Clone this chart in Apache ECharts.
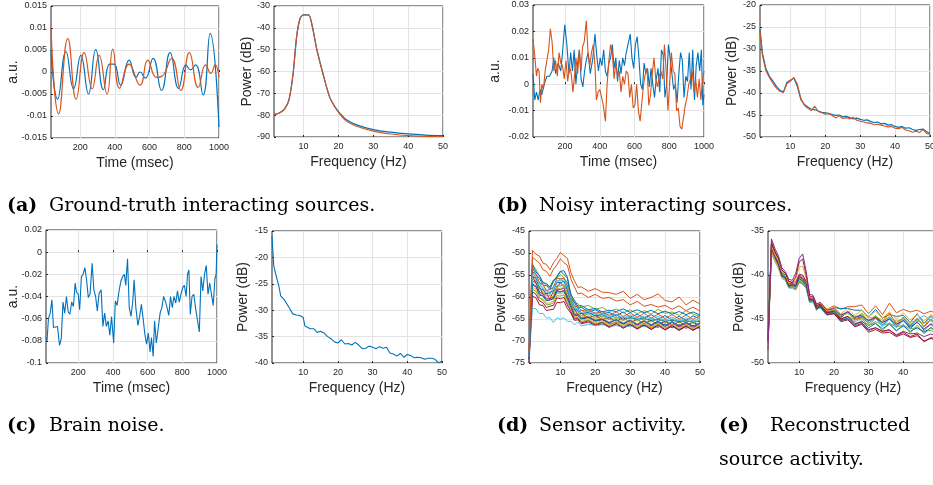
<!DOCTYPE html>
<html><head><meta charset="utf-8">
<script src="https://cdn.jsdelivr.net/npm/echarts@6/dist/echarts.min.js"></script>
<style>html,body{margin:0;padding:0;background:#fff}#c{width:933px;height:485px}</style>
</head><body><div id="c"></div>
<script>
// ---------- DATA ----------
const TIME_TICKS = [200,400,600,800,1000];
const FREQ_TICKS = [10,20,30,40,50];
const A1_YT = [-0.015,-0.01,-0.005,0,0.005,0.01,0.015];
const A2_YT = [-90,-80,-70,-60,-50,-40,-30];
const B1_YT = [-0.02,-0.01,0,0.01,0.02,0.03];
const B2_YT = [-50,-45,-40,-35,-30,-25,-20];
const C1_YT = [-0.1,-0.08,-0.06,-0.04,-0.02,0,0.02];
const C2_YT = [-40,-35,-30,-25,-20,-15];
const D_YT = [-75,-70,-65,-60,-55,-50,-45];
const E_YT = [-50,-45,-40,-35];

// (a) ground-truth sources, time domain
const A1_T_BLUE = [32,70,118,162,204,248,290,334,370,395,433,482,522,545,575,620,669,718,767,810,835,865,908,949,1000];
const A1_V_BLUE = [0.005,-0.0062,0.0046,-0.0038,0.0038,-0.005,0.0051,-0.004,0.0018,0.0018,-0.003,0.0027,-0.0012,0,-0.0014,0.0031,-0.0042,0.0044,-0.0037,0.0016,0.0005,0.0016,-0.0052,0.0088,-0.0125];
const A1_T_ORANGE = [32,76,129,177,223,269,309,355,388,427,482,545,590,639,670,727,780,829,880,923,953,978,1000];
const A1_V_ORANGE = [0.0099,-0.0095,0.0076,-0.0062,0.0044,-0.0038,0.0038,-0.005,0.0052,-0.0037,0.0018,-0.003,0.0027,-0.0012,-0.001,0.0031,-0.0042,0.0044,-0.0035,0.0016,-0.0003,0.0016,-0.0012];
// (a) spectra
const A2_F = [1.5,3,4.5,5.8,7,8,9,10,11.4,12.5,13.8,15.5,17.4,18.9,20.3,22.2,25,30,35,40,45,50];
const A2_BLUE = [-79.8,-79,-77.2,-73,-60.7,-44,-35.6,-34.1,-34.1,-39.4,-50,-60.7,-71.4,-76,-79,-82,-84.3,-86.6,-87.8,-88.6,-89.1,-89.4];
const A2_ORANGE = [-79.8,-79,-77.2,-73,-60.7,-44,-35.6,-34.1,-34.1,-39.4,-50,-60.7,-71.4,-76,-79.3,-82.6,-85,-87.3,-88.6,-89.3,-89.7,-89.9];

// (b) noisy sources, time domain
const B1_T_BLUE = [15,25,35,45,55,65,80,95,110,125,135,145,160,175,185,198,210,222,232,242,252,262,272,282,292,302,312,322,332,345,360,372,382,392,402,412,422,432,442,452,462,472,482,492,502,512,522,532,542,552,562,575,585,595,605,615,625,635,645,655,665,675,685,695,705,715,725,735,745,755,765,775,785,795,805,815,825,835,845,855,865,875,885,895,905,915,925,935,945,955,965,975,985,993,1000];
const B1_V_BLUE = [0.004,-0.006,-0.003,-0.006,-0.002,-0.004,0,0.003,0.003,0.005,0.01,0.004,0.008,0.005,0.012,0.0225,0.015,0.004,0.012,0.005,0.013,0,0.008,0.013,0.002,-0.001,0.005,0.009,0.012,0.004,0.01,0.019,0.011,0.005,0.01,0.007,0.013,0.005,0.003,0.008,0.01,0.015,0.006,0.01,0.001,0.009,0.004,0.01,0.007,0.012,0.015,0.019,0.01,0.006,0.015,0.018,0.01,0,-0.002,0.008,0.004,0.006,-0.001,0.006,0,-0.005,0.002,0.006,-0.003,0.013,0.011,-0.005,0,0.015,0.01,0.004,-0.002,0,-0.007,0.004,0.012,0.009,-0.005,0.003,0.001,0.012,-0.002,0.013,-0.006,0.007,0.012,0.005,0.013,-0.008,-0.004];
const B1_T_ORANGE = [15,25,35,42,50,58,66,75,85,95,105,115,125,135,145,155,165,175,185,195,205,215,225,235,245,255,262,272,282,292,300,310,322,332,342,352,362,372,380,390,400,410,420,432,442,452,462,472,482,492,502,512,522,532,542,552,562,572,582,592,602,612,622,632,642,652,662,672,682,692,702,712,722,732,742,752,762,772,782,792,802,812,822,832,842,852,862,872,882,892,902,912,922,932,942,952,962,972,982,992,1000];
const B1_V_ORANGE = [0.017,0.011,0.003,0.006,0.005,-0.007,0,-0.002,0.005,0.009,0.013,0.021,0.016,0.005,0.009,0.003,0.012,0.008,0.007,0.002,0.009,0.001,0.007,0.004,-0.003,0.004,0.01,0.004,0.013,0.005,0.014,0.016,0.024,0.012,0.007,0.012,0.015,0.007,-0.006,-0.003,-0.002,-0.005,-0.008,-0.014,0,0.009,0.015,0.012,0.002,0.008,0.003,0.005,-0.003,0.003,0,0.005,0.004,-0.005,0,-0.009,-0.008,0,-0.01,-0.014,-0.007,0,0.004,0.006,-0.008,-0.004,0.004,0.01,0.002,-0.001,0.003,0.005,0.002,0.015,0.005,-0.01,0,0.012,0.005,0.004,-0.01,-0.009,-0.016,-0.017,-0.017,-0.008,-0.005,0,0.002,0.005,-0.003,0.002,-0.005,0.002,-0.006,0.002,0.005];
// (b) spectra
const B2_F = [1.3,2,3,4,5,6,7,8,9,10,11,12,13,14,15,16,17,18,19,20,21,22,23,24,25,26,27,28,29,30,31,32,33,34,35,36,37,38,39,40,41,42,43,44,45,46,47,48,49,50];
const B2_BLUE = [-25.5,-31,-34.5,-36.2,-37.3,-38.5,-39.4,-39.8,-37.6,-37.1,-36.6,-38.5,-41.5,-42.6,-43.2,-43.7,-43.8,-44.1,-44.4,-44.5,-44.6,-44.9,-45.1,-45,-45.4,-45.3,-45.6,-45.9,-45.7,-46,-46.2,-46.1,-46.5,-46.7,-46.6,-47,-46.9,-47.3,-47.2,-47.6,-47.8,-47.6,-48,-47.9,-48.3,-48.5,-48.3,-48.2,-48.8,-49.2];
const B2_ORANGE = [-26,-31.5,-35,-36.5,-37.8,-38.9,-39.6,-39.9,-37.9,-37.3,-36.5,-38,-41.2,-42.8,-43.5,-44,-43,-44.2,-44.5,-44.8,-44.7,-45.1,-45.7,-45.2,-45.8,-45.6,-45.9,-45.5,-46.2,-46.4,-46.6,-46.8,-46.9,-47.2,-47.1,-47.3,-47.5,-47.7,-47.6,-48,-48.1,-47.8,-48.4,-48.6,-48.9,-48.7,-49,-48.3,-49.2,-49.4];

// (c) brain noise
const C1_T = [15,20,28,38,48,57,67,80,92,102,112,122,132,142,152,162,172,182,190,200,208,218,228,238,248,258,268,280,290,300,310,320,332,342,352,362,372,382,392,404,414,424,434,446,456,466,474,484,494,504,514,522,532,544,554,564,574,584,594,604,614,622,632,640,650,660,672,682,692,702,712,722,732,742,752,762,772,782,792,802,812,822,830,838,846,856,866,876,886,898,908,918,928,938,948,958,968,978,988,995,1000];
const C1_V = [-0.077,-0.08,-0.06,-0.055,-0.043,-0.068,-0.067,-0.067,-0.084,-0.078,-0.045,-0.055,-0.04,-0.054,-0.056,-0.045,-0.049,-0.028,-0.036,-0.038,-0.052,-0.022,-0.02,-0.014,-0.025,-0.041,-0.038,-0.01,-0.034,-0.04,-0.053,-0.037,-0.034,-0.067,-0.055,-0.067,-0.062,-0.075,-0.058,-0.082,-0.044,-0.048,-0.036,-0.026,-0.022,-0.02,-0.03,-0.006,-0.05,-0.058,-0.045,-0.025,-0.05,-0.066,-0.058,-0.047,-0.06,-0.074,-0.083,-0.073,-0.09,-0.077,-0.094,-0.062,-0.082,-0.07,-0.055,-0.05,-0.04,-0.044,-0.05,-0.057,-0.04,-0.05,-0.04,-0.046,-0.035,-0.045,-0.038,-0.032,-0.03,-0.04,-0.02,-0.016,-0.056,-0.04,-0.038,-0.05,-0.06,-0.072,-0.022,-0.035,-0.02,-0.012,-0.038,-0.028,-0.038,-0.048,-0.024,-0.02,0.007];
const C2_F = [1,1.5,2,3,3.5,4.5,5,6,7,8,9,10,10.5,11,12,13,14,15,16,17,18,19,20,21,22,23,24,25,25.5,26,27,28,29,30,31,32,33,34,35,36,37,38,39,40,41,42,43,44,45,46,47,48,49,50];
const C2_V = [-16,-21.5,-23,-25.5,-27.3,-28,-28.5,-29.6,-30.7,-30.9,-31,-31.4,-33,-33.3,-33.5,-33.5,-34.2,-34,-34.3,-35,-35.4,-36,-36.2,-35.6,-36.4,-36.3,-36.6,-36.1,-35.8,-36.6,-37.3,-37.2,-36.8,-37,-37.3,-36.9,-37.2,-37,-38.1,-38.3,-38.7,-38.2,-38.9,-38.4,-38.6,-39,-38.9,-39,-39.3,-39.1,-39.1,-39.3,-40,-39.6];

// (d) sensor spectra, (e) reconstructed source spectra
const DE_F = [1,2,3,4,5,6,7,8,9,10,11,12,13,14,15,16,18,20,22,24,26,28,30,32,34,36,38,40,42,44,46,48,50];
const D_LINES = [
 [-73,-52.5,-53.8,-55.2,-56.6,-57.2,-57.8,-56.2,-55.8,-54.9,-55.6,-56.8,-59.2,-61.3,-61.5,-62.3,-61.9,-62.8,-62.4,-63.3,-62.7,-63.6,-62.9,-63.8,-63.1,-63.9,-62.8,-63.7,-63.4,-64.2,-63.1,-63.9,-64.4],
 [-73.5,-53.4,-54.9,-55.8,-57.3,-57.4,-58.3,-56.5,-55.3,-54.1,-54.9,-55.7,-60.1,-61.2,-62.6,-62.3,-63.4,-62.9,-63.8,-63.5,-64.3,-63.4,-64.6,-63.9,-64.8,-64,-65,-64.2,-65.2,-64.4,-65.3,-64.3,-65],
 [-74,-54.2,-55.8,-56.7,-58.3,-58.4,-59.4,-57.7,-56.9,-55.7,-56.6,-57.2,-60.9,-61.9,-63.3,-63,-63.9,-63.6,-64.5,-63.8,-64.8,-64.5,-64.9,-64.7,-65.2,-64.9,-65.4,-65.1,-65.5,-65.2,-65.7,-65.3,-65.6],
 [-74.5,-55.2,-56.9,-57.7,-59.4,-59.2,-60.4,-58.7,-57.9,-56.7,-57.7,-58.2,-61.8,-62.7,-64,-63.7,-64.7,-64.2,-65.1,-64.7,-65.5,-64.7,-65.8,-65.1,-66.1,-65.3,-66.3,-65.5,-66.4,-65.6,-66.5,-65.7,-66.6],
 [-73,-56.6,-57,-58.9,-59.2,-60.3,-60.1,-59.8,-57.9,-58.1,-57.7,-59.5,-61.7,-63.6,-63.7,-64.6,-64.3,-65.1,-64.7,-65.7,-64.8,-65.9,-65.1,-66.1,-65.2,-66.3,-65.5,-66.5,-65.7,-66.7,-65.8,-66.8,-66],
 [-74,-57.3,-57.7,-59.6,-59.7,-60.8,-60.7,-60.3,-58.5,-58.8,-58.5,-60.3,-62.2,-64.1,-64.2,-65,-64.7,-65.5,-65.2,-66.1,-65.7,-66,-66.5,-66.3,-66.7,-66.5,-66.9,-66.1,-67,-66.3,-67.1,-66.4,-67.2],
 [-73.5,-55.3,-55.7,-58.1,-58.3,-59.3,-59,-58.5,-56.7,-56.7,-56.5,-58.3,-60.7,-62.9,-63,-63.8,-63.5,-64.3,-64,-64.8,-64,-65.1,-64.7,-65,-64.9,-65.3,-65.1,-65.5,-65.3,-65.6,-65.4,-65.7,-65.5],
 [-74,-58.3,-58.7,-60.3,-60.7,-61.8,-61.7,-61.3,-59.7,-59.8,-59.5,-61.3,-62.7,-64.6,-64.7,-65.6,-65.2,-66.1,-65.7,-66.5,-65.7,-66.7,-65.9,-66.9,-66,-67,-66.2,-67.1,-66.3,-67.3,-66.4,-67.4,-66.5],
 [-73,-54.3,-54.7,-56.8,-57.2,-58.5,-58.3,-57.8,-55.7,-55.9,-55.7,-57.5,-59.9,-62.1,-62.2,-63.1,-62.9,-63.7,-63.3,-64.2,-63.4,-64.4,-63.6,-64.6,-63.7,-64.8,-63.9,-64.9,-64,-65,-64.1,-65.1,-64.2],
 [-75,-59.8,-60.2,-61.8,-61.9,-63.1,-62.9,-62.8,-61.2,-61.3,-61,-62.6,-63.7,-65.3,-65.2,-66.1,-65.7,-66.5,-66.1,-66.9,-66.1,-67.1,-66.3,-67.3,-66.4,-67.4,-66.5,-67.5,-66.6,-67.6,-66.7,-67.5,-66.7],
 [-74.5,-62.5,-62.7,-63.8,-63.7,-64.8,-64.7,-65.8,-64.7,-65.1,-64.7,-65.6,-65.5,-66.3,-65.7,-66.6,-66.2,-66.5,-66.3,-66.7,-66.5,-66.8,-66.6,-66.9,-66.7,-67,-66.6,-66.9,-66.7,-67.1,-66.8,-67.2,-66.4],
 [-73,-52.8,-54.3,-55.2,-56.8,-56.9,-57.8,-56.2,-55.5,-54.2,-54,-55.5,-59.5,-60.7,-62.1,-61.9,-62.9,-62.6,-63.4,-63,-63.3,-62.7,-63.5,-62.9,-63.6,-63,-63.8,-63.2,-63.9,-63.3,-64,-63.4,-64.1],
 [-74,-56.3,-56.7,-58.9,-59.3,-60.5,-60.3,-60.1,-58.2,-58.3,-58,-59.8,-62,-63.9,-63.9,-64.8,-64.5,-65.3,-65,-65.9,-65.1,-66.2,-65.4,-66.4,-65.5,-66.5,-65.7,-66.7,-65.8,-66.8,-65.9,-66.9,-66],
 [-73.5,-57.8,-58.2,-60.1,-60.4,-61.5,-61.3,-60.9,-59.1,-59.3,-59,-60.8,-62.5,-64.3,-64.4,-65.3,-64.9,-65.8,-65.4,-66.3,-65.5,-66.5,-65.7,-66.7,-65.8,-66.8,-66,-67,-66.1,-67.1,-66.2,-67.2,-66.3],
 [-73.8,-55.8,-56.2,-58.2,-58.7,-59.8,-59.6,-59.2,-57.4,-57.5,-57.2,-58.9,-61.2,-63.2,-63.4,-64.3,-63.8,-64.8,-64.3,-65.2,-64.5,-65.4,-64.5,-65.5,-64.8,-65.7,-64.9,-65.8,-65,-65.9,-65.1,-66,-65.2],
 [-74.2,-58.8,-59.4,-60.9,-61.3,-62.4,-62.1,-61.9,-60.2,-60.4,-60.1,-61.8,-63.3,-65,-64.9,-65.9,-65.4,-66.3,-65.8,-66.8,-66,-67,-66.2,-67.2,-66.3,-67.3,-66.4,-67.4,-66.5,-67.5,-66.6,-67.6,-66.7],
 [-73.6,-54.8,-55.3,-57.3,-57.8,-58.9,-58.8,-58.3,-56.3,-56.3,-56.1,-57.9,-60.3,-62.5,-62.7,-63.5,-63.2,-64,-63.7,-64.5,-63.9,-64.8,-64.1,-65,-64.3,-65.1,-64.4,-65.3,-64.6,-65.4,-64.7,-65.5,-64.8],
 [-74,-57,-57.5,-59.3,-59.8,-60.9,-60.6,-60.4,-58.8,-58.9,-58.6,-60.4,-62.3,-64.2,-64.2,-65,-64.6,-65.4,-65.1,-65.8,-65.2,-66,-65.3,-66.2,-65.4,-66.3,-65.5,-66.4,-65.6,-66.5,-65.7,-66.6,-65.8],
 [-72.5,-51,-51.6,-52.3,-53.8,-54.2,-55.3,-53.7,-52.7,-51.3,-52.2,-52.8,-55.9,-57.7,-59.3,-59.1,-60.1,-59.4,-60.3,-60.1,-60.9,-60.6,-61.8,-61,-62.1,-61.7,-62.3,-61.9,-62.8,-62,-63.1,-62.3,-63.2],
 [-72,-49.4,-50.3,-50.7,-52.3,-52.6,-53.8,-52.2,-51.2,-49.9,-50.6,-51.2,-54.4,-56.3,-57.8,-57.7,-58.7,-58.1,-58.9,-59,-59.4,-58.7,-60.3,-59.4,-60.6,-60.1,-59.3,-60.8,-61.1,-60,-61.8,-60.7,-61.6]
];
const E_LINES = [
 [-47,-37,-37.9,-38.8,-40,-40.2,-41.2,-41.2,-41.4,-40.4,-40.7,-41.1,-42.9,-42.8,-43.7,-43.4,-44.2,-44,-44.8,-44.1,-45,-44.7,-45.5,-44.8,-45.7,-44.9,-45.9,-45.1,-46.1,-45.3,-46.3,-45.5,-46.4],
 [-48.2,-36.4,-37.4,-38.3,-39.7,-40,-41,-41,-41,-40,-40.2,-40.8,-42.7,-42.6,-43.5,-43.1,-43.9,-43.5,-43.9,-43.6,-43.6,-43.4,-44.4,-43.5,-44.5,-43.2,-44.3,-43.9,-44.2,-44,-44.4,-44.1,-44.5],
 [-46,-37.1,-38.2,-39,-40.2,-40.4,-41.3,-41.3,-41.5,-40.6,-40.9,-41.3,-43,-43,-43.9,-43.6,-44.4,-44.2,-45,-44.7,-45.1,-44.9,-45.7,-45.3,-45.7,-45.5,-45.9,-45.7,-46.1,-46,-46.4,-46.3,-46.7],
 [-48,-37.6,-38.5,-39.3,-40.4,-40.6,-41.5,-41.5,-41.7,-40.8,-41.1,-41.5,-43.1,-43.1,-44,-43.7,-44.6,-44.3,-45.2,-44.8,-45.3,-45,-45.8,-44.9,-45.9,-45,-46,-45.1,-45.6,-45.2,-45.5,-44.6,-44.8],
 [-46.5,-36.7,-37.8,-38.6,-39.8,-40,-41,-41,-41.2,-40.2,-40.5,-41,-42.8,-42.8,-43.5,-43.3,-44.1,-43.7,-43.8,-43.8,-44,-44,-44.8,-43.9,-44.9,-44.5,-44.7,-44.6,-45.4,-44.4,-45.5,-44.7,-45.6],
 [-48,-37.3,-38.2,-39,-40.2,-40.5,-41.4,-41.4,-41.6,-40.8,-41,-41.4,-43,-42.9,-43.8,-43.4,-44.3,-44,-44.9,-44.1,-45.1,-44.8,-45.1,-44.9,-45.3,-44.3,-45.6,-44.8,-45.8,-44.9,-45.9,-45.1,-46],
 [-47,-36.5,-37.6,-38.4,-39.7,-40.1,-41.1,-41.1,-41.3,-40.3,-40.6,-41.1,-42.9,-42.8,-43.8,-43.5,-44.4,-44.1,-45,-44.7,-45.6,-45.3,-45.7,-45.5,-46.3,-45.4,-46.4,-45.6,-46.6,-45.7,-46.7,-45.9,-46.8],
 [-48.3,-37.5,-38.4,-39.1,-40.3,-40.4,-41.3,-41.3,-41.4,-40.5,-40.8,-41.2,-42.9,-42.8,-43.6,-43.3,-44.1,-43.8,-44.6,-44.3,-45.2,-44.3,-44.9,-44.7,-45.1,-44.9,-45.2,-45,-45.4,-45.1,-45.5,-45.2,-45.6],
 [-47.2,-36.8,-37.9,-38.7,-39.9,-40.2,-41.2,-41.2,-41.4,-40.5,-40.8,-41.2,-43,-43,-43.8,-43.7,-44.5,-44.2,-44.5,-44.4,-44.7,-44.6,-45.5,-44.6,-45.6,-44.8,-45.8,-44.9,-45.9,-45.1,-44.6,-45.2,-45.9],
 [-47.3,-37.2,-38.1,-38.9,-40.2,-40.4,-41.4,-41.4,-41.5,-40.7,-41,-41.4,-43.1,-43,-44,-43.6,-44.4,-44,-44.5,-44.2,-44.9,-44.4,-45.3,-44.6,-45.4,-44.7,-45.4,-44.9,-45.7,-45,-45.8,-45,-45.9],
 [-47.6,-36.9,-37.9,-38.7,-40,-40.3,-41.3,-41.2,-41.3,-40.4,-40.7,-41.2,-43,-42.8,-43.9,-43.5,-44.5,-44.4,-45.2,-44.9,-45.7,-45.2,-46,-45.5,-46.1,-45.6,-46.3,-45.8,-46.4,-46,-46.5,-46,-46.6],
 [-47.5,-37,-37.9,-38.8,-40.1,-40.3,-41.2,-41.1,-41.2,-40.1,-40.4,-40.9,-42.8,-42.8,-43.8,-43.6,-44.5,-44.4,-45.3,-45.1,-45.9,-45.6,-46.5,-46.2,-46.6,-46.5,-47,-46.7,-47.1,-46.9,-47.5,-47.2,-47.6],
 [-47.8,-36.2,-37.3,-38.1,-39.5,-39.8,-40.8,-40.8,-40.8,-39.9,-40,-40.7,-42.6,-42.6,-43.6,-43.4,-44.3,-44.3,-45.1,-45,-45.8,-45.5,-46.3,-46,-46.4,-46.3,-46.8,-46.4,-46.7,-46.6,-47,-46.7,-47.1],
 [-48,-36.7,-37.7,-38.3,-39.6,-39.9,-40.9,-40.8,-40.5,-39.1,-39,-40.4,-42.5,-42.6,-43.4,-43.2,-43.9,-43.6,-44.4,-43.8,-44.6,-44,-44.8,-44.1,-44.9,-44.2,-45,-44.3,-45.1,-44.5,-45.2,-44.5,-45.3],
 [-47.5,-36.4,-37.4,-38.1,-39.4,-39.8,-40.7,-40.9,-40.2,-38.5,-38.2,-40,-42.4,-42.5,-43.5,-43.3,-44.3,-44.1,-45,-44.7,-45.5,-45.4,-46.2,-46,-46.4,-46.2,-46.9,-46.5,-47,-46.7,-47.6,-47.1,-47.5],
 [-48.5,-35.9,-37,-37.8,-39.2,-39.6,-40.5,-40.6,-39.8,-38.1,-37.6,-39.6,-42.2,-42.3,-43.3,-43.1,-44,-43.8,-44.6,-44.2,-44.8,-44.6,-45.2,-44.8,-45.4,-45,-45.6,-45.2,-45.9,-45.4,-46.1,-45.6,-46.4]
];

// ---------- STYLE ----------
const M = {blue:'#0072BD', orange:'#D95319', yellow:'#EDB120', purple:'#7E2F8E', green:'#77AC30', cyan:'#4DBEEE', red:'#A2142F'};
const D_COLORS = [M.green,M.blue,M.cyan,M.red,M.yellow,M.purple,M.blue,M.green,M.orange,M.red,M.cyan,M.blue,M.purple,M.yellow,M.green,M.red,M.cyan,M.blue,M.orange,M.orange];
const E_COLORS = [M.blue,M.orange,M.green,M.cyan,M.blue,M.orange,M.green,M.yellow,M.cyan,M.green,M.blue,M.red,M.purple,M.yellow,M.red,M.purple];
const INK = '#262626', GRIDC = '#e3e3e3', SANS = 'Liberation Sans';

const GRIDS = [
 {left:51, top:6, width:168, height:132},
 {left:274, top:6, width:169, height:131},
 {left:533, top:5, width:171, height:132},
 {left:760, top:5, width:170, height:132},
 {left:46, top:230, width:171, height:133},
 {left:272, top:231, width:170, height:132},
 {left:529, top:231, width:171, height:132},
 {left:768, top:231, width:170, height:132}
];
const XR = [[32,1000],[1.5,50],[15,1000],[1.3,50],[14,1000],[1,50],[1,50],[1,50]];
const XT = [TIME_TICKS,FREQ_TICKS,TIME_TICKS,FREQ_TICKS,TIME_TICKS,FREQ_TICKS,FREQ_TICKS,FREQ_TICKS];
const XN = ['Time (msec)','Frequency (Hz)','Time (msec)','Frequency (Hz)','Time (msec)','Frequency (Hz)','Frequency (Hz)','Frequency (Hz)'];
const YT = [A1_YT,A2_YT,B1_YT,B2_YT,C1_YT,C2_YT,D_YT,E_YT];
const YN = ['a.u.','Power (dB)','a.u.','Power (dB)','a.u.','Power (dB)','Power (dB)','Power (dB)'];
const YGAP = [31,20,31,21,26,22,21,22];

function pairs(xs, ys){ return xs.map((x,i)=>[x, ys[i]]); }
const plain = v => String(v);
const common = {
  nameLocation:'middle', nameMoveOverlap:false,
  nameTextStyle:{fontSize:14, color:INK, fontFamily:SANS},
  axisLine:{show:false},
  splitLine:{show:true, lineStyle:{color:GRIDC, width:1}}
};
const grid = GRIDS.map(g=>Object.assign({show:true, borderColor:INK, borderWidth:1, backgroundColor:'#fff', outerBoundsMode:'none', containLabel:false}, g));
const xAxis = GRIDS.map((g,i)=>Object.assign({}, common, {
  type:'value', gridIndex:i, min:XR[i][0], max:XR[i][1], name:XN[i], nameGap:18,
  axisTick:{show:true, inside:true, length:2, lineStyle:{color:INK}, customValues:XT[i]},
  axisLabel:{customValues:XT[i], formatter:plain, fontSize:9, color:INK, fontFamily:SANS, margin:5}
}));
const yAxis = GRIDS.map((g,i)=>Object.assign({}, common, {
  type:'value', gridIndex:i, min:YT[i][0], max:YT[i][YT[i].length-1], name:YN[i], nameGap:YGAP[i],
  axisTick:{show:true, inside:true, length:2, lineStyle:{color:INK}, customValues:YT[i]},
  axisLabel:{customValues:YT[i], formatter:plain, fontSize:9, color:INK, fontFamily:SANS, margin:4}
}));
function line(gi, data, color, width, smooth){
  return {type:'line', xAxisIndex:gi, yAxisIndex:gi, data, showSymbol:false, symbol:'none', smooth:smooth||false,
    lineStyle:{color, width}, itemStyle:{color}, clip:true, silent:true, z:3};
}
const series = [
  line(0, pairs(A1_T_BLUE, A1_V_BLUE), M.blue, 1.2, 0.5),
  line(0, pairs(A1_T_ORANGE, A1_V_ORANGE), M.orange, 1.2, 0.5),
  line(1, pairs(A2_F, A2_BLUE), M.blue, 1.3, 0.3),
  line(1, pairs(A2_F, A2_ORANGE), M.orange, 1.1, 0.3),
  line(2, pairs(B1_T_BLUE, B1_V_BLUE), M.blue, 1.1),
  line(2, pairs(B1_T_ORANGE, B1_V_ORANGE), M.orange, 1.1),
  line(3, pairs(B2_F, B2_BLUE), M.blue, 1.2),
  line(3, pairs(B2_F, B2_ORANGE), M.orange, 1.1),
  line(4, pairs(C1_T, C1_V), M.blue, 1.1),
  line(5, pairs(C2_F, C2_V), M.blue, 1.1)
];
D_LINES.forEach((v,k)=>series.push(line(6, pairs(DE_F, v), D_COLORS[k], 1)));
E_LINES.forEach((v,k)=>series.push(line(7, pairs(DE_F, v), E_COLORS[k], 1)));

const SERIF = '"DejaVu Serif"';
function cap(x, y, txt, bold){
  return {type:'text', x, y, silent:true, style:{text:txt, fill:'#000', font:(bold?'bold ':'')+'19px '+SERIF, textVerticalAlign:'middle', verticalAlign:'middle'}};
}
const graphic = [
  cap(7,206,'(a)',true), cap(49,206,'Ground-truth interacting sources.'),
  cap(497,206,'(b)',true), cap(539,206,'Noisy interacting sources.'),
  cap(7,426,'(c)',true), cap(49,426,'Brain noise.'),
  cap(497,426,'(d)',true), cap(539,426,'Sensor activity.'),
  cap(719,426,'(e)',true), cap(770,426,'Reconstructed'),
  cap(719,460,'source activity.')
];

const chart = echarts.init(document.getElementById('c'), null, {renderer:'canvas'});
chart.setOption({animation:false, backgroundColor:'#fff', grid, xAxis, yAxis, series, graphic});
</script>
</body></html>
